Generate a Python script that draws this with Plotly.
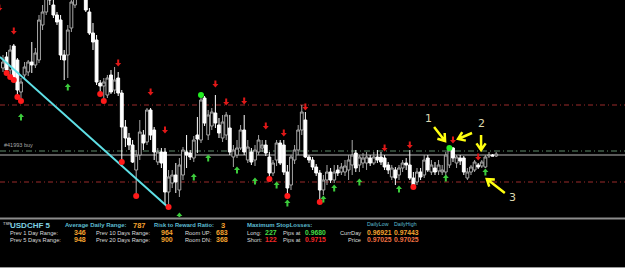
import math
import plotly.graph_objects as go

W, H = 625, 279

# ---------------- data (prices in pips, x 0.0001) ----------------
opens = [9790, 9801, 9788, 9812, 9798, 9766, 9783, 9786, 9796, 9793,
         9798, 9833, 9846, 9873, 9853, 9843, 9838, 9803, 9803, 9830,
         9853, 9868, 9883, 9863, 9846, 9825, 9818, 9775, 9772, 9763,
         9783, 9768, 9780, 9765, 9731, 9720, 9713, 9688, 9703, 9723,
         9716, 9748, 9728, 9696, 9706, 9706, 9666, 9675, 9683, 9668,
         9683, 9706, 9705, 9700, 9723, 9718, 9760, 9723, 9732, 9745,
         9733, 9720, 9723, 9730, 9701, 9703, 9710, 9728, 9698, 9706,
         9698, 9706, 9710, 9713, 9701, 9685, 9698, 9715, 9713, 9686,
         9673, 9698, 9708, 9728, 9738, 9701, 9698, 9691, 9685, 9668,
         9678, 9686, 9678, 9688, 9686, 9686, 9688, 9693, 9705, 9693,
         9695, 9695, 9700, 9695, 9701, 9701, 9700, 9693, 9681, 9688,
         9683, 9690, 9695, 9693, 9680, 9676, 9686, 9683, 9700, 9686,
         9690, 9687, 9686, 9686, 9693, 9710, 9695, 9700, 9700, 9680,
         9686, 9688, 9693, 9692, 9691, 9702, 9703, 9702]
highs = [9803, 9806, 9813, 9814, 9800, 9780, 9796, 9798, 9816, 9810,
         9843, 9853, 9868, 9878, 9858, 9846, 9843, 9808, 9833, 9863,
         9878, 9888, 9888, 9868, 9850, 9835, 9823, 9778, 9780, 9783,
         9788, 9791, 9786, 9768, 9738, 9725, 9718, 9708, 9738, 9728,
         9750, 9750, 9731, 9710, 9710, 9710, 9688, 9688, 9695, 9700,
         9711, 9723, 9708, 9722, 9741, 9763, 9762, 9748, 9750, 9763,
         9740, 9743, 9746, 9743, 9713, 9718, 9733, 9743, 9718, 9710,
         9713, 9723, 9718, 9718, 9706, 9698, 9718, 9718, 9718, 9693,
         9703, 9713, 9733, 9753, 9746, 9703, 9701, 9694, 9688, 9683,
         9693, 9690, 9693, 9693, 9695, 9698, 9703, 9718, 9708, 9703,
         9705, 9706, 9703, 9706, 9708, 9706, 9703, 9696, 9693, 9691,
         9693, 9698, 9700, 9708, 9686, 9690, 9690, 9703, 9703, 9698,
         9696, 9698, 9693, 9706, 9711, 9711, 9703, 9703, 9702, 9690,
         9693, 9698, 9695, 9698, 9703, 9706, 9704, 9706]
lows = [9786, 9786, 9782, 9777, 9762, 9758, 9778, 9782, 9785, 9790,
        9795, 9828, 9843, 9853, 9840, 9833, 9798, 9778, 9780, 9826,
        9850, 9863, 9860, 9846, 9823, 9808, 9773, 9766, 9759, 9760,
        9764, 9764, 9762, 9698, 9711, 9708, 9695, 9664, 9698, 9708,
        9713, 9718, 9698, 9693, 9690, 9653, 9652, 9670, 9665, 9661,
        9678, 9690, 9698, 9696, 9705, 9715, 9732, 9718, 9728, 9730,
        9720, 9716, 9718, 9703, 9691, 9700, 9708, 9703, 9695, 9693,
        9692, 9703, 9706, 9702, 9680, 9682, 9692, 9693, 9683, 9663,
        9668, 9694, 9703, 9723, 9700, 9695, 9688, 9682, 9658, 9663,
        9673, 9675, 9675, 9682, 9683, 9682, 9678, 9683, 9686, 9686,
        9690, 9688, 9692, 9693, 9695, 9693, 9688, 9684, 9678, 9673,
        9678, 9686, 9688, 9678, 9671, 9673, 9678, 9680, 9686, 9683,
        9683, 9683, 9683, 9682, 9690, 9696, 9690, 9693, 9683, 9678,
        9683, 9686, 9689, 9690, 9690, 9700, 9702, 9701]
closes = [9796, 9788, 9808, 9778, 9768, 9776, 9791, 9796, 9793, 9805,
          9838, 9846, 9863, 9858, 9843, 9836, 9803, 9798, 9828, 9856,
          9868, 9883, 9863, 9848, 9825, 9816, 9776, 9772, 9776, 9780,
          9766, 9778, 9765, 9731, 9720, 9713, 9696, 9703, 9726, 9715,
          9748, 9723, 9706, 9706, 9695, 9666, 9681, 9683, 9676, 9693,
          9708, 9703, 9701, 9718, 9719, 9758, 9735, 9743, 9746, 9735,
          9725, 9736, 9743, 9706, 9708, 9710, 9728, 9706, 9711, 9696,
          9708, 9718, 9713, 9705, 9685, 9695, 9715, 9695, 9686, 9670,
          9701, 9708, 9728, 9746, 9701, 9698, 9691, 9685, 9668, 9678,
          9686, 9678, 9686, 9685, 9691, 9692, 9698, 9703, 9690, 9701,
          9700, 9701, 9695, 9701, 9698, 9696, 9691, 9688, 9690, 9680,
          9690, 9695, 9693, 9680, 9673, 9686, 9681, 9698, 9688, 9693,
          9686, 9693, 9688, 9703, 9708, 9700, 9701, 9697, 9686, 9686,
          9691, 9696, 9691, 9696, 9701, 9703, 9702, 9704]
bars = list(range(len(opens)))

red_dot_x = [1, 2, 3, 4, 5, 27, 28, 33, 37, 46, 74, 79, 88, 114]
red_dot_y = [9785, 9781, 9778, 9761, 9757, 9764, 9757, 9696, 9662, 9651, 9679, 9662, 9656, 9671]
green_dot_x = [55, 124]
green_dot_y = [9763, 9710]

down_arrow_x = [-1, 3, 32, 41, 45, 59, 62, 67, 73, 78, 84, 106, 113, 125, 132]
down_arrow_y = [9850, 9827, 9795, 9766, 9728, 9774, 9756, 9757, 9732, 9725, 9751, 9710, 9713, 9718, 9701]
up_arrow_x = [5, 18, 49, 53, 57, 65, 70, 76, 79, 89, 92, 99, 110, 123, 134]
up_arrow_y = [9741, 9771, 9642, 9681, 9700, 9688, 9677, 9673, 9655, 9659, 9670, 9676, 9669, 9680, 9686]

trend_x = [-0.83, 45.8]
trend_y = [9801, 9651]

red_levels = [9753, 9676]
green_level = 9707
price_level = 9703
order_label = "#41993 buy"

# hand-drawn yellow arrows: tip (bar, pips) and tail offset in pixels
yellow_tip_x = [122.8, 126.4, 132.8, 134.4]
yellow_tip_y = [9717, 9719, 9708, 9679]
yellow_tail_dx = [-11, 14, 0, 18]
yellow_tail_dy = [14, 6, 15, -14]
hand_labels = ["1", "2", "3"]
hand_label_x = [118.1, 132.8, 141.4]
hand_label_y = [9740, 9735, 9661]

# info panel
symbol = "USDCHF 5"
adr = "787"
rr = "3"
prev_labels = ["Prev 1 Day Range:", "Prev 5 Days Range:"]
prev_vals = ["346", "948"]
prev2_labels = ["Prev 10 Days Range:", "Prev 20 Days Range:"]
prev2_vals = ["964", "900"]
room_labels = ["Room UP:", "Room DN:"]
room_vals = ["683", "368"]
sl_labels = ["Long:", "Short:"]
sl_pips = ["227", "122"]
sl_prices = ["0.9680", "0.9715"]
day_rows = ["CurrDay", "Price"]
daily_low = ["0.96921", "0.97025"]
daily_high = ["0.97443", "0.97025"]

P = 10000.0
to_price = lambda v: [a / P for a in v] if isinstance(v, list) else v / P

fig = go.Figure()

fig.add_trace(go.Candlestick(
    x=bars, open=to_price(opens), high=to_price(highs), low=to_price(lows), close=to_price(closes),
    increasing=dict(line=dict(color="#a8a8a8", width=1), fillcolor="#000000"),
    decreasing=dict(line=dict(color="#ffffff", width=1), fillcolor="#ffffff"),
    whiskerwidth=0, showlegend=False, hoverinfo="skip"))

fig.add_trace(go.Scatter(x=trend_x, y=to_price(trend_y), mode="lines",
                         line=dict(color="#5fe0e6", width=2), showlegend=False, hoverinfo="skip"))

fig.add_trace(go.Scatter(x=red_dot_x, y=to_price(red_dot_y), mode="markers",
                         marker=dict(color="#ff1a1a", size=6, line=dict(width=0)),
                         showlegend=False, hoverinfo="skip"))
fig.add_trace(go.Scatter(x=green_dot_x, y=to_price(green_dot_y), mode="markers",
                         marker=dict(color="#22ee22", size=6, line=dict(width=0)),
                         showlegend=False, hoverinfo="skip"))

shapes = []
# horizontal levels
for lv in red_levels:
    shapes.append(dict(type="line", xref="paper", yref="y", x0=0, x1=1, y0=lv / P, y1=lv / P,
                       line=dict(color="#9a2a2a", width=1, dash="5px,3px,1px,3px"), layer="below"))
shapes.append(dict(type="line", xref="paper", yref="y", x0=0, x1=1, y0=green_level / P, y1=green_level / P,
                   line=dict(color="#5f8a6a", width=1, dash="6px,3px,1px,3px"), layer="below"))
shapes.append(dict(type="line", xref="paper", yref="y", x0=0, x1=1, y0=price_level / P, y1=price_level / P,
                   line=dict(color="#b4b4b4", width=1), layer="below"))

down_path = "M-1,3.5 L1,3.5 L1,0 L3,0 L0,-3.5 L-3,0 L-1,0 Z"
up_path = "M-1,-3.5 L1,-3.5 L1,0 L3,0 L0,3.5 L-3,0 L-1,0 Z"
for x, y in zip(down_arrow_x, down_arrow_y):
    shapes.append(dict(type="path", xref="x", yref="y", xsizemode="pixel", ysizemode="pixel",
                       xanchor=x, yanchor=y / P, path=down_path, fillcolor="#e01818",
                       line=dict(width=0)))
for x, y in zip(up_arrow_x, up_arrow_y):
    shapes.append(dict(type="path", xref="x", yref="y", xsizemode="pixel", ysizemode="pixel",
                       xanchor=x, yanchor=y / P, path=up_path, fillcolor="#3ccc3c",
                       line=dict(width=0)))

# yellow hand-drawn arrows
for tx, ty, dx, dy in zip(yellow_tip_x, yellow_tip_y, yellow_tail_dx, yellow_tail_dy):
    L = math.hypot(dx, dy)
    ux, uy = dx / L, dy / L
    wings = []
    for ang in (35, -35):
        a = math.radians(ang)
        wx = (ux * math.cos(a) - uy * math.sin(a)) * 8
        wy = (ux * math.sin(a) + uy * math.cos(a)) * 8
        wings.append((wx, wy))
    path = (f"M{dx:.1f},{dy:.1f} L0,0 M{wings[0][0]:.1f},{wings[0][1]:.1f} L0,0 "
            f"L{wings[1][0]:.1f},{wings[1][1]:.1f}")
    shapes.append(dict(type="path", xref="x", yref="y", xsizemode="pixel", ysizemode="pixel",
                       xanchor=tx, yanchor=ty / P, path=path,
                       line=dict(color="#ffff10", width=2.5)))

# panel separator and bottom white strip
def py(v):
    return 1 - v / H

shapes.append(dict(type="rect", xref="paper", yref="paper", x0=0, x1=1, y0=py(219.5), y1=py(217.5),
                   fillcolor="#8c8c8c", line=dict(width=0)))
shapes.append(dict(type="rect", xref="paper", yref="paper", x0=0, x1=1, y0=0, y1=py(267.5),
                   fillcolor="#ffffff", line=dict(width=0)))
shapes.append(dict(type="line", xref="paper", yref="paper", x0=0, x1=1, y0=py(267.5), y1=py(267.5),
                   line=dict(color="#9a9a9a", width=1)))

ann = []
ann.append(dict(x=2 / W, xref="paper", y=(green_level + 1) / P, yref="y", text=order_label,
                showarrow=False, xanchor="left", yanchor="bottom",
                font=dict(size=5.5, color="#a8a8a8", family="Arial, Liberation Sans")))
for t, x, y in zip(hand_labels, hand_label_x, hand_label_y):
    ann.append(dict(x=x, y=y / P, xref="x", yref="y", text=t, showarrow=False,
                    font=dict(size=11, color="#dcd8b0", family="DejaVu Sans"), xanchor="center",
                    yanchor="middle"))

F = "Arial, Liberation Sans"
TEAL = "#5cbcd2"
ORANGE = "#f5a32e"
LABEL = "#dcdcdc"
GREEN = "#44dd44"
RED = "#f02828"
SALMON = "#f07040"

def txt(x, yy, s, color, size, bold=False):
    ann.append(dict(x=x / W, y=py(yy), xref="paper", yref="paper", text=(f"<b>{s}</b>" if bold else s),
                    showarrow=False, xanchor="left", yanchor="middle", borderpad=0,
                    font=dict(size=size, color=color, family=F)))

r1, r2, r3 = 225, 232.5, 239.5
txt(1.5, 223.5, "TSR", "#e0e0e0", 4)
txt(9, r1, symbol, "#7fd0e2", 8, True)
txt(64, r1, "Average Daily Range:", TEAL, 6.0, True)
txt(132, r1, adr, ORANGE, 7.5, True)
txt(153, r1, "Risk to Reward Ratio:", TEAL, 5.8, True)
txt(220, r1, rr, ORANGE, 7.5, True)
txt(246, r1, "Maximum StopLosses:", TEAL, 6.0, True)
txt(366, 224, "DailyLow", TEAL, 5.3)
txt(392.5, 224, "DailyHigh", TEAL, 5.3)
for k, yy in enumerate([r2, r3]):
    txt(9, yy, prev_labels[k], LABEL, 5.7)
    txt(73, yy, prev_vals[k], ORANGE, 7.0, True)
    txt(95, yy, prev2_labels[k], LABEL, 5.7)
    txt(160, yy, prev2_vals[k], ORANGE, 7.0, True)
    txt(184, yy, room_labels[k], LABEL, 5.7)
    txt(215, yy, room_vals[k], ORANGE, 7.0, True)
    txt(246, yy, sl_labels[k], LABEL, 5.7)
    txt(264, yy, sl_pips[k], GREEN if k == 0 else RED, 7.0, True)
    txt(282, yy, "Pips at", LABEL, 5.7)
    txt(304, yy, sl_prices[k], GREEN if k == 0 else RED, 6.8, True)
    ann.append(dict(x=362 / W, y=py(yy), xref="paper", yref="paper", text=day_rows[k], showarrow=False,
                    xanchor="right", yanchor="middle", borderpad=0,
                    font=dict(size=5.7, color=LABEL, family=F)))
    txt(366, yy, daily_low[k], ORANGE if k == 0 else SALMON, 6.8, True)
    txt(392.5, yy, daily_high[k], ORANGE if k == 0 else SALMON, 6.8, True)

main_bottom = 217
x0 = -0.83
fig.update_layout(
    width=W, height=H, margin=dict(l=0, r=0, t=0, b=0),
    paper_bgcolor="#000000", plot_bgcolor="#000000",
    boxgap=0.12, boxgroupgap=0.1,
    xaxis=dict(range=[x0, x0 + W / 3.6], visible=False, showgrid=False, zeroline=False,
               rangeslider=dict(visible=False), fixedrange=True),
    yaxis=dict(range=[(9858 - main_bottom) / P, 9858 / P], domain=[1 - main_bottom / H, 1],
               visible=False, showgrid=False, zeroline=False, fixedrange=True),
    shapes=shapes, annotations=ann, showlegend=False,
)

fig.write_html("out.html")
